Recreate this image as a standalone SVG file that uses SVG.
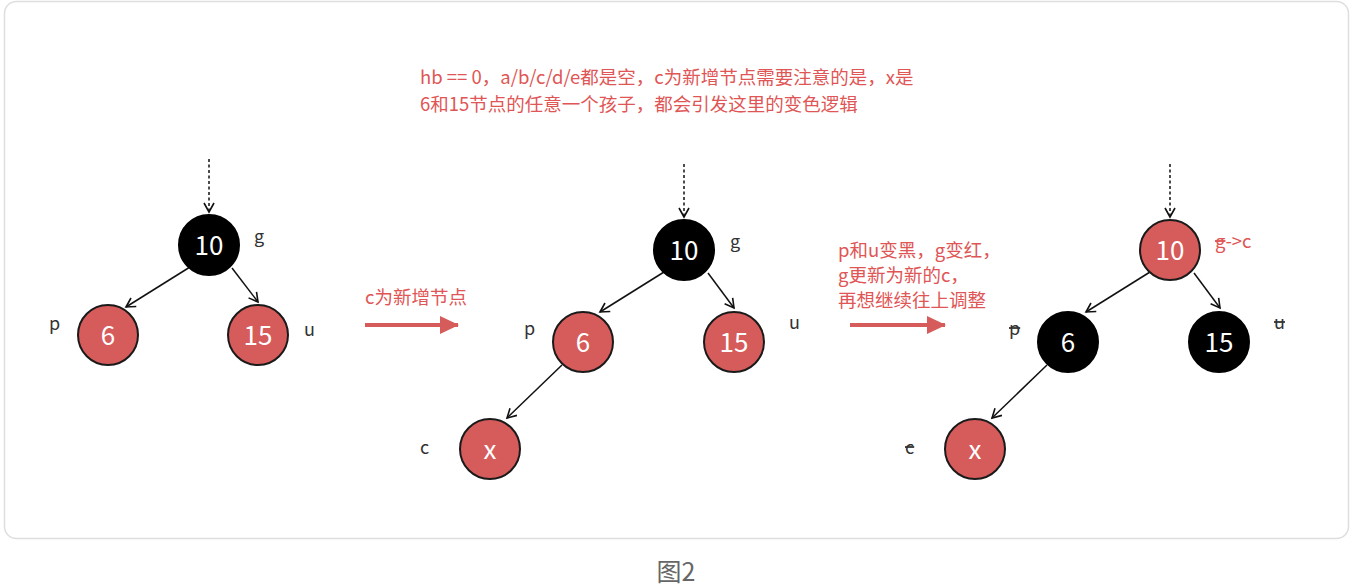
<svg xmlns="http://www.w3.org/2000/svg" width="1357" height="587" viewBox="0 0 1357 587">
<defs>
<marker id="ah" viewBox="0 0 12 12" refX="10" refY="6" markerWidth="12" markerHeight="12" markerUnits="userSpaceOnUse" orient="auto">
<path d="M1,1 L10,6 L1,11" fill="none" stroke="#111" stroke-width="1.6"/>
</marker>
<marker id="bh" viewBox="0 0 20 20" refX="18" refY="10" markerWidth="20" markerHeight="20" markerUnits="userSpaceOnUse" orient="auto">
<path d="M0,1 L19,10 L0,19 Z" fill="#d65b5b"/>
</marker>
</defs>
<style>
text{font-family:"Noto Sans CJK SC","Noto Sans",sans-serif}
.red{fill:#d65b5b;stroke:#1a1a1a;stroke-width:2}
.blk{fill:#000;stroke:#000;stroke-width:2}
.num{fill:#fff;font-size:26px;text-anchor:middle;dominant-baseline:central}
.lbl{fill:#333;font-size:18px}
.note{fill:#e05555;font-size:18.5px}
.edge{stroke:#111;stroke-width:1.5;fill:none;marker-end:url(#ah)}
.dot{stroke:#111;stroke-width:1.5;fill:none;stroke-dasharray:3 2.5;marker-end:url(#ah)}
.big{stroke:#d65b5b;stroke-width:4;fill:none;marker-end:url(#bh)}
.st{text-decoration:line-through}
</style>
<rect x="4.5" y="1.5" width="1344" height="537" rx="12" fill="#fff" stroke="#dedede" stroke-width="1.5"/>
<text x="676" y="581" font-size="25" fill="#666" text-anchor="middle">图2</text>
<text class="note" x="420" y="84">hb == 0，a/b/c/d/e都是空，c为新增节点需要注意的是，x是</text>
<text class="note" x="420" y="111">6和15节点的任意一个孩子，都会引发这里的变色逻辑</text>
<g id="connectors">
<line class="dot" x1="209" y1="159" x2="209" y2="212"/>
<line class="edge" x1="190" y1="267" x2="126" y2="307"/>
<line class="edge" x1="232" y1="268" x2="258" y2="302"/>
<line class="dot" x1="684" y1="164" x2="684" y2="217"/>
<line class="edge" x1="664" y1="272" x2="600" y2="312"/>
<line class="edge" x1="708" y1="273" x2="734" y2="308"/>
<line class="edge" x1="562" y1="365" x2="507" y2="418"/>
<line class="dot" x1="1170" y1="164" x2="1170" y2="217"/>
<line class="edge" x1="1150" y1="272" x2="1086" y2="312"/>
<line class="edge" x1="1194" y1="273" x2="1220" y2="308"/>
<line class="edge" x1="1047" y1="365" x2="992" y2="418"/>
<line class="big" x1="365" y1="325" x2="458" y2="325"/>
<line class="big" x1="850" y1="325" x2="945" y2="325"/>
</g>
<text class="note" x="365" y="304">c为新增节点</text>
<text class="note" x="838" y="257">p和u变黑，g变红，</text>
<text class="note" x="838" y="282">g更新为新的c，</text>
<text class="note" x="838" y="307">再想继续往上调整</text>
<g id="t1-10"><circle class="blk" cx="209" cy="245" r="30"/><text class="num" x="209" y="243">10</text><text class="lbl" x="254" y="243">g</text></g>
<g id="t1-6"><circle class="red" cx="108" cy="335" r="30"/><text class="num" x="108" y="333">6</text><text class="lbl" x="49" y="330">p</text></g>
<g id="t1-15"><circle class="red" cx="258" cy="335" r="30"/><text class="num" x="258" y="333">15</text><text class="lbl" x="304" y="336">u</text></g>
<g id="t2-10"><circle class="blk" cx="684" cy="250" r="30"/><text class="num" x="684" y="248">10</text><text class="lbl" x="730" y="248">g</text></g>
<g id="t2-6"><circle class="red" cx="583" cy="342" r="30"/><text class="num" x="583" y="340">6</text><text class="lbl" x="524" y="335">p</text></g>
<g id="t2-15"><circle class="red" cx="734" cy="342" r="30"/><text class="num" x="734" y="340">15</text><text class="lbl" x="789" y="329">u</text></g>
<g id="t2-x"><circle class="red" cx="490" cy="449" r="30"/><text class="num" x="490" y="447">x</text><text class="lbl" x="420" y="454">c</text></g>
<g id="t3-10"><circle class="red" cx="1170" cy="250" r="30"/><text class="num" x="1170" y="248">10</text><text class="note" x="1215" y="248"><tspan class="st">g</tspan>-&gt;c</text></g>
<g id="t3-6"><circle class="blk" cx="1068" cy="342" r="30"/><text class="num" x="1068" y="340">6</text><text class="lbl" x="1009" y="335"><tspan class="st">p</tspan></text></g>
<g id="t3-15"><circle class="blk" cx="1219" cy="342" r="30"/><text class="num" x="1219" y="340">15</text><text class="lbl" x="1274" y="329"><tspan class="st">u</tspan></text></g>
<g id="t3-x"><circle class="red" cx="975" cy="449" r="30"/><text class="num" x="975" y="447">x</text><text class="lbl" x="905" y="454"><tspan class="st">c</tspan></text></g>
</svg>
